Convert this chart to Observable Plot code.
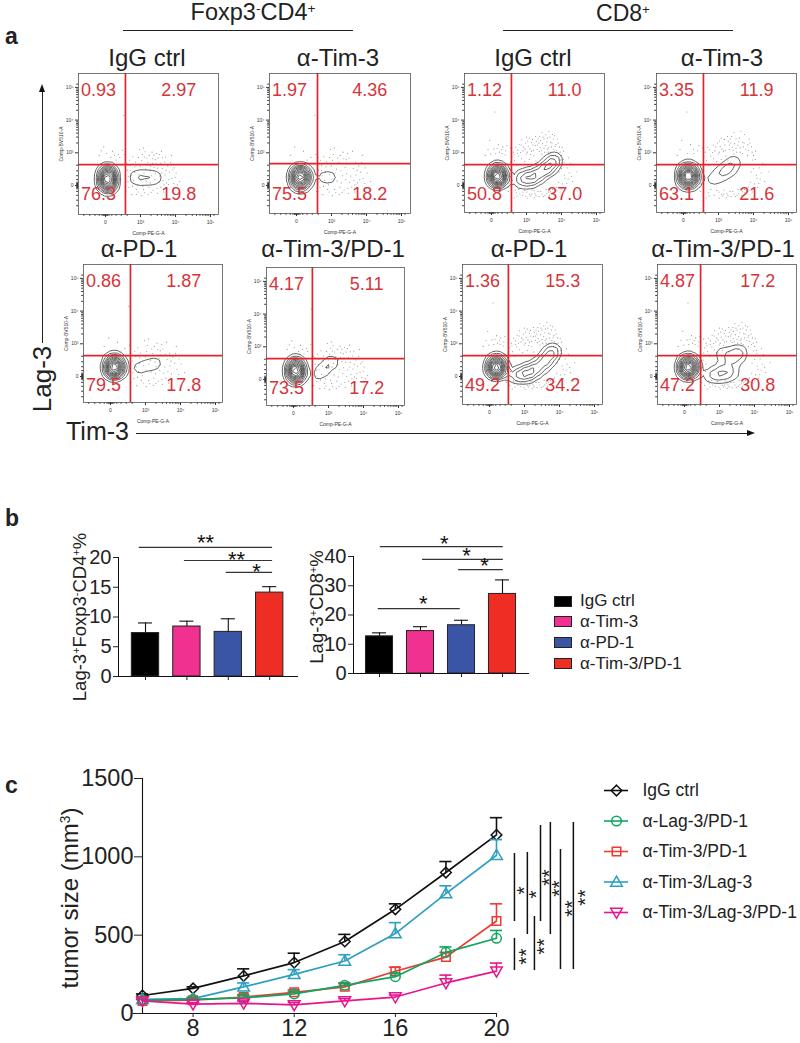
<!DOCTYPE html>
<html><head><meta charset="utf-8">
<style>
html,body{margin:0;padding:0;background:#fff;}
#page{position:relative;width:800px;height:1043px;overflow:hidden;font-family:"Liberation Sans",Arial,sans-serif;color:#222;}
#page>*{position:absolute;}
.t{white-space:nowrap;line-height:1;}
.t sup{font-size:.58em;line-height:0;vertical-align:.55em;}
</style>
<script src="https://cdn.jsdelivr.net/npm/d3@7"></script>
<script src="https://cdn.jsdelivr.net/npm/@observablehq/plot@0.6"></script>
</head><body><div id="page"></div>
<script>
// ---------- panel a: quadrant percentages ----------
const panelNames = ["IgG ctrl","α-Tim-3","IgG ctrl","α-Tim-3","α-PD-1","α-Tim-3/PD-1","α-PD-1","α-Tim-3/PD-1"];
const upperLeft  = ["0.93","1.97","1.12","3.35","0.86","4.17","1.36","4.87"];
const upperRight = ["2.97","4.36","11.0","11.9","1.87","5.11","15.3","17.2"];
const lowerLeft  = ["76.3","75.5","50.8","63.1","79.5","73.5","49.2","47.2"];
const lowerRight = ["19.8","18.2","37.0","21.6","17.8","17.2","34.2","30.8"];
const flowDecades = [0,1,2,3];
const flowDecadeLabels = ["0","10³","10⁴","10⁵"];
const minorTicks = [-0.62,-0.45,-0.3,-0.18,-0.1,-0.06,-0.03,0.03,0.06,0.1,0.18,0.3,0.45,0.62,1.3,1.48,1.6,1.7,1.78,1.85,1.9,1.95,2.3,2.48,2.6,2.7,2.78,2.85,2.9,2.95,3.1];
// dots (Tim-3 decade, Lag-3 decade)
const cloudCD4 = [[.72,.62],[1.05,.95],[1.41,.18],[.88,-.12],[1.62,.52],[1.21,.71],[.95,.33],[1.74,.08],[1.33,1.02],[.64,.11],[1.5,.84],[1.12,-.22],[1.83,.41],[.78,.88],[1.27,.45],[1.58,-.05],[.99,.6],[1.44,.66],[.58,-.18],[1.9,.22],[-.18,.92],[.2,1.05],[1.16,.14],[.83,.41],[1.69,.72],[1.36,-.14],[1.02,-.31],[.69,.77],[1.55,.29],[1.78,.6],[1.08,1.15],[.91,.02],[1.46,.98],[.62,.47],[1.24,-.05],[1.95,.06],[.41,.86],[1.66,-.2],[1.31,.3],[.86,.72],[1.14,.5],[1.52,.1],[.75,-.28],[1.39,.56],[1.86,.7],[1.01,.2],[.55,.95],[1.7,.32],[.97,1.1],[1.6,1.05],[1.22,-.27],[.8,.16],[1.48,-.24],[-.05,1.18],[1.18,.84],[1.35,.82],[.67,-.06],[1.76,-.1],[2.02,.38],[.3,.78],[1.1,.38],[1.43,.36],[.93,-.2],[1.64,.15],[1.28,.08],[.73,.3],[.52,2.15],[1.88,.92],[2.12,.12],[1.96,.54],
 [.77,-.02],[1.09,-.12],[1.3,-.21],[1.47,-.09],[.84,.57],[1.03,.77],[1.25,.92],[1.42,.79],[1.57,.68],[1.73,.47],[1.81,.18],[1.67,.02],[.61,.66],[.71,.46],[.94,.86],[1.13,1.03],[1.38,.93],[1.54,.95],[1.72,.87],[1.8,.03],[.89,-.27],[1.06,-.02],[1.19,.62],[1.34,.68],[1.61,.38],[1.92,.48],[1.99,.25],[2.06,.02],[.65,.28],[.57,.72],[.49,1.08],[.37,.95],[.15,.86],[.02,.98],[-.12,1.06],[.26,.92],[1.11,.87],[1.29,.6],[1.49,.53],[1.63,.85]];
const cloudCD8 = [[.72,.62],[1.05,1.2],[1.41,-.18],[.88,-.3],[1.62,1.02],[1.21,.91],[.95,.73],[1.74,-.12],[1.33,1.42],[.44,.31],[1.5,1.14],[1.12,-.32],[1.93,.41],[.58,.88],[1.27,.75],[1.58,-.25],[.99,.96],[1.44,.96],[.48,-.18],[2.1,.22],[-.18,.92],[.2,1.25],[1.16,-.14],[.83,1.01],[1.69,1.32],[1.36,-.34],[1.02,-.39],[.69,1.17],[1.85,-.05],[2.05,.8],[1.08,1.45],[.71,-.22],[1.46,1.28],[.42,.67],[1.24,-.25],[2.15,.06],[.41,1.06],[1.66,-.3],[1.31,1.1],[.86,.82],[1.14,1.05],[1.92,.1],[.65,-.38],[1.39,1.16],[1.96,1.02],[1.01,-.2],[.55,1.15],[2.0,.52],[.97,1.3],[1.6,1.45],[1.22,-.37],[.6,.16],[1.48,-.34],[-.05,1.38],[1.18,1.24],[1.55,1.22],[.47,-.06],[1.96,-.2],[2.22,.38],[.3,.98],[1.78,1.1],[1.73,1.3],[.73,-.32],[1.84,1.25],[1.28,1.35],[.53,.5],[.1,2.25],[1.88,1.42],[2.32,.12],[2.16,.54],[.78,.9],[1.1,1.12],[1.35,1.3],[1.52,1.02],[1.68,.98],[1.83,.92],[.92,1.18],[1.26,1.5],[1.44,1.62],[1.62,1.15],[1.97,.78],[2.08,.32],[.62,1.02],[.85,1.24],[1.15,-.26],[1.33,-.18],[1.56,-.12],[1.75,-.22],[.95,-.15],[.78,-.12],[2.03,.05],[2.26,.68],[1.74,1.56],[1.08,.8],[.5,.05],[.66,.76],[1.94,1.18],[1.2,1.08],[1.5,1.42],[1.9,1.3],[2.06,1.05],[.36,.5],[.44,1.22],[.12,.98],[-.1,1.1],[.28,1.1],[1.38,1.5],[1.64,1.66],[2.44,.42],[1.02,1.02],
 [.74,1.09],[.9,1.06],[1.03,1.36],[1.17,1.41],[1.31,1.24],[1.42,1.08],[1.58,1.34],[1.71,1.18],[1.86,1.07],[2.0,.92],[2.12,.64],[2.19,.2],[2.11,-.06],[1.99,-.13],[1.87,-.16],[1.69,-.19],[1.53,-.3],[1.44,-.26],[1.27,-.31],[1.09,-.27],[.98,-.33],[.81,-.26],[.68,-.14],[.57,-.27],[.55,.72],[.64,.94],[.79,1.26],[.96,1.12],[1.12,.95],[1.25,1.22],[1.37,1.04],[1.47,1.48],[1.59,1.1],[1.77,1.42],[1.91,.98],[2.07,.71],[2.2,.85],[2.29,.28],[1.8,-.28],[1.63,-.2],[1.22,-.16],[.9,-.2],[.62,.38],[.51,.27],[.39,.93],[.32,1.18],[.23,1.02],[.07,1.12],[-.02,.96],[.16,1.14],[1.14,1.32],[1.4,1.38],[1.55,1.55],[1.82,1.2],[2.02,1.16],[.74,.98],[.86,1.4],[1.0,1.48],[1.67,1.48],[1.8,1.52]];
const dotCounts = [125,85,170,130,80,110,170,170];
// contour weights: [Tim-3 decade, Lag-3 decade, weight]
const contourWeights = [
 [[.06,.38,3],[.06,.2,3.5],[.06,.02,3],[.85,.24,.8],[1.15,.24,1.0],[1.45,.24,.75]],
 [[.11,.4,3],[.11,.24,3.5],[.11,.08,3],[.7,.25,.6],[1.0,.25,.7]],
 [[.17,.44,3],[.17,.3,3.5],[.17,.16,3],[.8,.2,1.7],[1.08,.22,2.0],[1.35,.32,1.9],[1.6,.54,2.1],[1.78,.78,1.7]],
 [[.14,.46,3],[.14,.3,3.5],[.14,.12,3],[.8,.18,.55],[1.05,.34,.85],[1.28,.5,1.0],[1.46,.72,.75]],
 [[.11,.46,3],[.11,.3,3.5],[.11,.14,3],[.75,.25,.6],[1.05,.33,.7],[1.32,.42,.6]],
 [[.06,.44,3],[.06,.27,3.5],[.06,.1,3],[.62,.12,.55],[.85,.3,.8],[1.08,.55,.9]],
 [[.2,.44,3],[.2,.3,3.5],[.2,.16,3],[.78,.05,1.7],[1.06,.1,2.0],[1.35,.22,2.0],[1.62,.48,2.1],[1.8,.78,1.7]],
 [[.11,.44,3],[.11,.3,3.5],[.11,.14,3],[.78,.05,1.2],[1.08,.1,1.5],[1.38,.12,1.1],[1.28,.6,1.2],[1.56,.7,1.5],[1.0,.72,.6]]
];
const gateX = [.57,.6,.57,.57,.57,.54,.54,.46];
const gateY = [.64,.67,.64,.64,.64,.64,.64,.64];

// ---------- panel b ----------
const groupNames = ["IgG ctrl","α-Tim-3","α-PD-1","α-Tim-3/PD-1"];
const groupColors = ["#000000","#f0318f","#3a55a5","#ee2d24"];
const cd4Means = [7.3,8.4,7.5,14.1];
const cd4Tops  = [9,9.3,9.7,15.1];
const cd8Means = [12.7,14.5,16.5,27.2];
const cd8Tops  = [13.9,16,18.2,32];
const cd4Brackets = [[-.15,3.07,21.7,1.45,22.9,"**"],[.94,3.07,19.5,2.2,20.05,"**"],[1.95,3.07,17.5,2.68,17.95,"*"]];
const cd8Brackets = [[.02,3.02,43.4,1.58,45.3,"*"],[1.05,3.02,39,2.12,41,"*"],[1.93,3.02,35.5,2.56,37.5,"*"],[-.03,1.97,22.2,1.07,24.6,"*"]];

// ---------- panel c ----------
const days = [6,8,10,12,14,16,18,20];
const seriesNames = ["IgG ctrl","α-Lag-3/PD-1","α-Tim-3/PD-1","α-Tim-3/Lag-3","α-Tim-3/Lag-3/PD-1"];
const seriesColors = ["#111111","#12a560","#ee3a33","#2e9fc0","#e6168e"];
const igg      = [115,160,240,325,460,665,900,1140];
const iggTop   = [125,170,285,385,505,700,970,1250];
const lagPd    = [85,90,100,125,180,235,390,480];
const lagPdTop = [95,100,115,140,195,255,425,530];
const timPd    = [80,85,105,135,170,270,360,590];
const timPdTop = [90,95,120,150,190,295,390,700];
const timLag   = [90,95,170,250,335,510,765,1010];
const timLagTop= [100,105,195,280,375,580,815,1110];
const triple   = [80,60,65,55,80,105,195,270];
const tripleTop= [90,70,80,70,95,118,245,322];
const sigLines = [[20.71,587,1021],[21.22,504,1028],[21.74,587,1200],[22.13,504,1219],[22.53,281,1047],[23.04,281,1219],[20.71,274,479],[21.5,274,619]];
const sigStars = [[20.95,785,"*"],[21.42,760,"*"],[21.94,868,"**"],[22.33,798,"**"],[22.85,670,"**"],[23.36,740,"**"],[21.03,364,"**"],[21.74,428,"**"]];

// ---------- helpers ----------
const page = document.getElementById("page");
const FONT = '"Liberation Sans",Arial,sans-serif';
function place(plot,left,top){plot.style.left=left+"px";plot.style.top=top+"px";page.appendChild(plot);}
function txt(html,x,base,size,opt={}){
  const d=document.createElement("div");d.className="t";d.innerHTML=html;
  d.style.fontSize=size+"px";d.style.left=x+"px";d.style.top=(base-.847*size)+"px";
  if(opt.bold)d.style.fontWeight="bold";
  if(opt.center)d.style.transform="translateX(-50%)";
  page.appendChild(d);
}
function vtxt(html,cx,cy,size){
  const d=document.createElement("div");d.className="t";d.innerHTML=html;
  d.style.fontSize=size+"px";d.style.left=cx+"px";d.style.top=cy+"px";
  d.style.transform="translate(-50%,-50%) rotate(-90deg)";page.appendChild(d);
}
function box(x,y,w,h,bg,extra=""){
  const d=document.createElement("div");
  d.style.cssText=`left:${x}px;top:${y}px;width:${w}px;height:${h}px;background:${bg};${extra}`;
  page.appendChild(d);
}
const upTri={draw(c,s){const r=Math.sqrt(s)*.62;c.moveTo(0,-r*1.1);c.lineTo(r*1.1,r*.8);c.lineTo(-r*1.1,r*.8);c.closePath();}};
const downTri={draw(c,s){const r=Math.sqrt(s)*.62;c.moveTo(0,r*1.1);c.lineTo(r*1.1,-r*.8);c.lineTo(-r*1.1,-r*.8);c.closePath();}};

// ---------- panel a ----------
const frames=[[78,73,140,141],[269,73,141,140],[464,73,140,139],[656,73,140,139],[83,264,139,138],[266,267,138,138],[462,264,140,140],[657,264,139,140]];
const titleAt=[[147,66],[338,66],[533,66],[722,66],[139,257],[333,257],[529,257],[723,257]];
panelNames.forEach((name,i)=>{
  const [fx,fy,w,h]=frames[i];
  const cloud=[2,3,6,7].includes(i)?cloudCD8:cloudCD4;
  const dots=cloud.slice(0,dotCounts[i]);
  const pct=[[-.2,2.9,upperLeft[i]],[2.09,2.9,upperRight[i]],[-.2,-.28,lowerLeft[i]],[2.09,-.28,lowerRight[i]]];
  const p=Plot.plot({
    width:w+26,height:h+24,marginLeft:24,marginRight:2,marginTop:2,marginBottom:22,
    style:{background:"transparent",fontFamily:FONT,overflow:"visible"},
    x:{domain:[-27/35,(w-27)/35]},
    y:{domain:[-(h-112)/32.7,112/32.7]},
    marks:[
      Plot.dot(dots,{x:d=>d[0],y:d=>d[1],r:.55,fill:"#666",fillOpacity:.7}),
      Plot.density(contourWeights[i],{x:d=>d[0],y:d=>d[1],weight:d=>d[2],bandwidth:4.5,thresholds:12,stroke:"#222",strokeWidth:.7}),
      Plot.ruleX([gateX[i]],{stroke:"#e4222c",strokeWidth:1.7}),
      Plot.ruleY([gateY[i]],{stroke:"#e4222c",strokeWidth:1.7}),
      Plot.text(pct,{x:d=>d[0],y:d=>d[1],text:d=>d[2],fontSize:18,fill:"#d6343a"}),
      Plot.axisX({ticks:minorTicks,tickSize:1.8,tickFormat:()=>"",label:null,stroke:"#333"}),
      Plot.axisY({ticks:minorTicks,tickSize:1.8,tickFormat:()=>"",label:null,stroke:"#333"}),
      Plot.axisX({ticks:flowDecades,tickSize:3,tickPadding:3,tickFormat:(d,j)=>flowDecadeLabels[j],fontSize:5,fill:"#333",stroke:"#333",
        label:"Comp-PE-G-A",labelAnchor:"center",labelArrow:"none",labelOffset:20}),
      Plot.axisY({ticks:flowDecades,tickSize:3,tickPadding:2,tickFormat:(d,j)=>flowDecadeLabels[j],fontSize:5,fill:"#333",stroke:"#333",
        label:"Comp-BV510-A",labelAnchor:"center",labelArrow:"none",labelOffset:19}),
      Plot.frame({stroke:"#555",strokeWidth:.8})
    ]
  });
  place(p,fx-24,fy-2);
  txt(name,titleAt[i][0],titleAt[i][1],24,{center:true});
});
txt('Foxp3<sup>-</sup>CD4<sup>+</sup>',253,21,23.5,{center:true});
txt('CD8<sup>+</sup>',623,21,23,{center:true});
box(123,29.5,230,1,"#222");
box(503,29.5,230,1,"#222");
txt("a",5,44,23,{bold:true});
vtxt("Lag-3",42,379,26);
txt("Tim-3",66,440,25);
box(41.5,91,1,252,"#222");
box(38.5,84,0,0,"transparent","border-left:3.5px solid transparent;border-right:3.5px solid transparent;border-bottom:8px solid #111;");
box(136,432.5,612,1,"#222");
box(747,430,0,0,"transparent","border-top:3.2px solid transparent;border-bottom:3.2px solid transparent;border-left:8px solid #111;");

// ---------- panel b ----------
function barChart(means,tops,brackets,o){
  const rows=groupNames.map((n,i)=>({i,name:n,mean:means[i],top:tops[i],color:groupColors[i]}));
  const p=Plot.plot({
    width:o.width,height:o.height,marginLeft:o.ml,marginRight:2,marginTop:o.mt,marginBottom:o.mb,
    style:{background:"transparent",fontFamily:FONT,overflow:"visible",color:"#222"},
    x:{domain:o.xd},y:{domain:[0,o.ymax]},color:{type:"identity"},
    marks:[
      Plot.ruleX(rows,{x:"i",y1:"mean",y2:"top",stroke:"#111",strokeWidth:1.1}),
      Plot.ruleY(rows,{y:"top",x1:d=>d.i-.17,x2:d=>d.i+.17,stroke:"#111",strokeWidth:1.1}),
      Plot.rectY(rows,{x1:d=>d.i-.33,x2:d=>d.i+.33,y:"mean",fill:"color",stroke:"#222",strokeWidth:1}),
      Plot.ruleX([o.xd[0]],{y1:0,y2:o.ymax,stroke:"#111",strokeWidth:1}),
      Plot.ruleY([0],{x1:o.xd[0]-5/41,x2:o.xd[1],stroke:"#111",strokeWidth:1}),
      Plot.axisY({ticks:o.ticks,tickSize:5,tickPadding:2,fontSize:20,label:null,fill:"#222"}),
      Plot.axisX({ticks:[0,1,2,3],tickSize:4,tickFormat:()=>"",label:null}),
      Plot.ruleY(brackets,{y:d=>d[2],x1:d=>d[0],x2:d=>d[1],stroke:"#333",strokeWidth:1.2}),
      Plot.text(brackets,{x:d=>d[3],y:d=>d[4],text:d=>d[5],fontSize:22,dy:2.5,fill:"#111"})
    ]
  });
  return p;
}
place(barChart(cd4Means,cd4Tops,cd4Brackets,{width:300,height:170,ml:118,mt:37,mb:14,xd:[-27/41.4,153/41.4],ymax:20,ticks:[0,5,10,15,20]}),0,520);
place(barChart(cd8Means,cd8Tops,cd8Brackets,{width:211,height:168,ml:33,mt:36,mb:15,xd:[-26/41,150/41],ymax:40,ticks:[0,10,20,30,40]}),320,520);
txt("b",5,526,23,{bold:true});
vtxt('Lag-3<sup>+</sup>Foxp3<sup>-</sup>CD4<sup>+</sup>%',80,617,18.5);
vtxt('Lag-3<sup>+</sup>CD8<sup>+</sup>%',317,607,18.5);
const legendRowsB=[600.7,621,642,663];
groupNames.forEach((n,i)=>{
  box(554,legendRowsB[i]-5,16,9,groupColors[i],"border:1px solid #222;");
  txt(n,580,legendRowsB[i]+6,17);
});

// ---------- panel c ----------
const allSeries=[[igg,iggTop,"diamond2"],[lagPd,lagPdTop,"circle"],[timPd,timPdTop,"square"],[timLag,timLagTop,upTri],[triple,tripleTop,downTri]];
const drawOrder=[0,3,2,1,4];
const lineMarks=drawOrder.flatMap(s=>{
  const [vals,tops,sym]=allSeries[s];
  const rows=days.map((d,k)=>({day:d,v:vals[k],top:tops[k]}));
  const col=seriesColors[s];
  return [
    Plot.ruleX(rows,{x:"day",y1:"v",y2:"top",stroke:col,strokeWidth:1.6}),
    Plot.ruleY(rows,{y:"top",x1:d=>d.day-.24,x2:d=>d.day+.24,stroke:col,strokeWidth:1.6}),
    Plot.line(rows,{x:"day",y:"v",stroke:col,strokeWidth:1.7}),
    Plot.dot(rows,{x:"day",y:"v",symbol:sym,r:4.8,stroke:col,strokeWidth:1.5,fill:"none"})
  ];
});
place(Plot.plot({
  width:600,height:273,marginLeft:142,marginRight:104,marginTop:8,marginBottom:30,
  style:{background:"transparent",fontFamily:FONT,overflow:"visible",color:"#222"},
  x:{domain:[6,20]},y:{domain:[0,1500]},
  marks:[
    Plot.ruleX([6],{y1:0,y2:1500,stroke:"#111",strokeWidth:1.1}),
    Plot.ruleY([0],{x1:5.64,x2:20,stroke:"#111",strokeWidth:1.1}),
    Plot.axisY({ticks:[0,500,1000,1500],tickSize:8,tickPadding:1,fontSize:23.5,label:null,fill:"#222",tickFormat:d=>String(d)}),
    Plot.axisX({ticks:[8,12,16,20],tickSize:4,tickPadding:2,fontSize:23.5,label:null,fill:"#222"}),
    ...lineMarks,
    Plot.ruleX(sigLines,{x:d=>d[0],y1:d=>d[1],y2:d=>d[2],stroke:"#111",strokeWidth:1.5}),
    Plot.text(sigStars,{x:d=>d[0],y:d=>d[1],text:d=>d[2],rotate:-90,fontSize:21,dx:4,fill:"#222"})
  ]
}),0,770);
txt("c",5,793,23,{bold:true});
vtxt('tumor size (mm<sup>3</sup>)',70,898,24);

// legend of panel c
const legendRows=seriesNames.map((n,i)=>({name:n,i,sym:allSeries[i][2],col:seriesColors[i]}));
place(Plot.plot({
  width:196,height:152,margin:0,
  style:{background:"transparent",fontFamily:FONT,overflow:"visible",color:"#222"},
  x:{domain:[0,196],axis:null},y:{domain:[0,4],range:[15,137],axis:null},
  marks:[
    ...legendRows.flatMap(r=>[
      Plot.ruleY([r.i],{x1:0,x2:24,stroke:r.col,strokeWidth:1.6}),
      Plot.dot([r.i],{x:()=>12,y:d=>d,symbol:r.sym,r:4.8,stroke:r.col,strokeWidth:1.5,fill:"none"})
    ]),
    Plot.text(legendRows,{x:()=>38,y:"i",text:"name",textAnchor:"start",fontSize:17.5,fill:"#222"})
  ]
}),604,775);
</script>
</body></html>
